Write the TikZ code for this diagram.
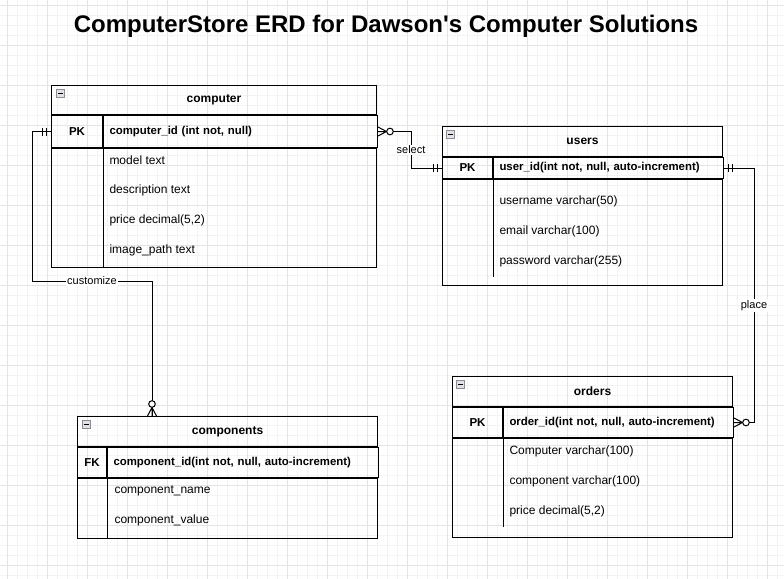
\documentclass[tikz,border=0pt]{standalone}
\usepackage{fontspec}
\setmainfont{Liberation Sans}
\usetikzlibrary{calc}

\tikzset{
  tabhead/.style={draw, rectangle, anchor=north west, inner sep=0pt, font=\fontsize{12}{14}\selectfont\bfseries},
  keycell/.style={draw, rectangle, anchor=north west, inner sep=0pt, font=\fontsize{11.5}{14}\selectfont\bfseries},
  pkcell/.style={draw, rectangle, anchor=north west, inner xsep=6pt, inner ysep=0pt, align=left, font=\fontsize{11.4}{14}\selectfont\bfseries},
  tabbody/.style={draw, rectangle, anchor=north west, inner sep=0pt},
  field/.style={anchor=west, inner sep=0pt, font=\fontsize{12}{14}\selectfont},
  rel/.style={fill=white, inner sep=1pt, font=\fontsize{11}{13}\selectfont},
  toggle/.style={draw={rgb,255:red,140;green,140;blue,150}, fill={rgb,255:red,225;green,225;blue,230}, line width=0.8pt, minimum size=8pt, inner sep=0pt,
    path picture={\draw[black, line width=1.2pt] ([xshift=-2.5pt]path picture bounding box.center) -- ([xshift=2.5pt]path picture bounding box.center);}},
  gridminor/.style={draw={rgb,255:red,243;green,243;blue,243}, line width=0.8pt},
  gridmajor/.style={draw={rgb,255:red,228;green,228;blue,228}, line width=0.8pt},
}

% crow's foot with circle: zero or many
\newcommand{\erdZeroMany}[2]{%
  \draw[rotate=#2] (#1) ++(0,-4.5) -- ++(8.5,4.5) -- ++(-8.5,4.5) (#1) -- ++(8.5,0);
  \draw[rotate=#2, fill=white] (#1) ++(12,0) circle (3.3);}
% two bars: exactly one
\newcommand{\erdOne}[2]{%
  \draw[rotate=#2] (#1) ++(4.5,-4) -- ++(0,8) (#1) ++(8.5,-4) -- ++(0,8);}

\begin{document}
\begin{tikzpicture}[x=1pt,y=1pt,yscale=-1,xscale=1,line width=1pt]
  \useasboundingbox (0,0) rectangle (784,578);
  \fill[white] (0,0) rectangle (784,578);
  %Grid
  \begin{scope}
    \clip (0,0) rectangle (784,578);
    \draw[gridminor, step=10, shift={(7,5)}] (-10,-10) grid (780,580);
    \draw[gridmajor, step=40, shift={(7,5)}] (-40,-40) grid (800,600);
  \end{scope}

  %Title
  \node[font=\fontsize{24}{28}\selectfont\bfseries] (title) at (386,26) {ComputerStore ERD for Dawson\textquotesingle s Computer Solutions};

  %Table: computer
  \node[tabhead, minimum width=325pt, minimum height=29pt] (computer) at (51,85) {computer};
  \node[keycell, minimum width=51pt, minimum height=32pt] (computerKey) at (computer.south west) {PK};
  \node[pkcell, text width=262pt, minimum height=32pt] (computerPK) at (computerKey.north east) {computer\_id (int not, null)};
  \node[tabbody, minimum width=325pt, minimum height=119pt] (computerBody) at (computerKey.south west) {};
  \draw (computerKey.south east) -- (computerKey.south east |- computerBody.south);
  \node[toggle] (computerToggle) at ($(computer.north west)+(9.5,8.5)$) {};
  \node[field] (computerModel) at (109,160) {model text};
  \node[field] (computerDesc) at (109,190) {description text};
  \node[field] (computerPrice) at (109,220) {price decimal(5,2)};
  \node[field] (computerImage) at (109,250) {image\_path text};

  %Table: users
  \node[tabhead, minimum width=280pt, minimum height=30pt] (users) at (442,126) {users};
  \node[keycell, minimum width=50pt, minimum height=21pt] (usersKey) at (users.south west) {PK};
  \node[pkcell, text width=218pt, minimum height=21pt] (usersPK) at (usersKey.north east) {user\_id(int not, null, auto-increment)};
  \node[tabbody, minimum width=280pt, minimum height=106pt] (usersBody) at (usersKey.south west) {};
  \draw (usersKey.south east) -- ++(0,98);
  \node[toggle] (usersToggle) at ($(users.north west)+(8.5,8.5)$) {};
  \node[field] (usersName) at (499,201) {username varchar(50)};
  \node[field] (usersEmail) at (499,231) {email varchar(100)};
  \node[field] (usersPass) at (499,261) {password varchar(255)};

  %Table: orders
  \node[tabhead, minimum width=280pt, minimum height=30pt] (orders) at (452,376) {orders};
  \node[keycell, minimum width=50pt, minimum height=30pt] (ordersKey) at (orders.south west) {PK};
  \node[pkcell, text width=218pt, minimum height=30pt] (ordersPK) at (ordersKey.north east) {order\_id(int not, null, auto-increment)};
  \node[tabbody, minimum width=280pt, minimum height=99pt] (ordersBody) at (ordersKey.south west) {};
  \draw (ordersKey.south east) -- ++(0,89);
  \node[toggle] (ordersToggle) at ($(orders.north west)+(8.5,8.5)$) {};
  \node[field] (ordersComputer) at (509,451) {Computer varchar(100)};
  \node[field] (ordersComponent) at (509,481) {component varchar(100)};
  \node[field] (ordersPrice) at (509,511) {price decimal(5,2)};

  %Table: components
  \node[tabhead, minimum width=300pt, minimum height=30pt] (components) at (77,416) {components};
  \node[keycell, minimum width=29pt, minimum height=30pt] (componentsKey) at (components.south west) {FK};
  \node[pkcell, text width=259pt, minimum height=30pt] (componentsPK) at (componentsKey.north east) {component\_id(int not, null, auto-increment)};
  \node[tabbody, minimum width=300pt, minimum height=60pt] (componentsBody) at (componentsKey.south west) {};
  \draw (componentsKey.south east) -- (componentsKey.south east |- componentsBody.south);
  \node[toggle] (componentsToggle) at ($(components.north west)+(9,8.5)$) {};
  \node[field] (componentsName) at (114,491) {component\_name};
  \node[field] (componentsValue) at (114,520) {component\_value};

  %Relations
  \draw (computerPK.east) -- ++(33,0) |- node[rel, pos=0.25] {select} (usersKey.west);
  \draw (usersPK.east) -- ++(30,0) |- node[rel, pos=0.27] {place} (ordersPK.east);
  \coordinate (customTurn) at (152,281);
  \coordinate (customEnd) at ($(components.north west)+(75,0)$);
  \draw (computerKey.west) -- ++(-19,0) |- node[rel, pos=0.75] {customize} (customTurn) -- (customEnd);

  %Relation ends
  \erdZeroMany{computerPK.east}{0}
  \erdOne{usersKey.west}{180}
  \erdOne{usersPK.east}{0}
  \erdZeroMany{ordersPK.east}{0}
  \erdOne{computerKey.west}{180}
  \erdZeroMany{customEnd}{-90}
\end{tikzpicture}
\end{document}
